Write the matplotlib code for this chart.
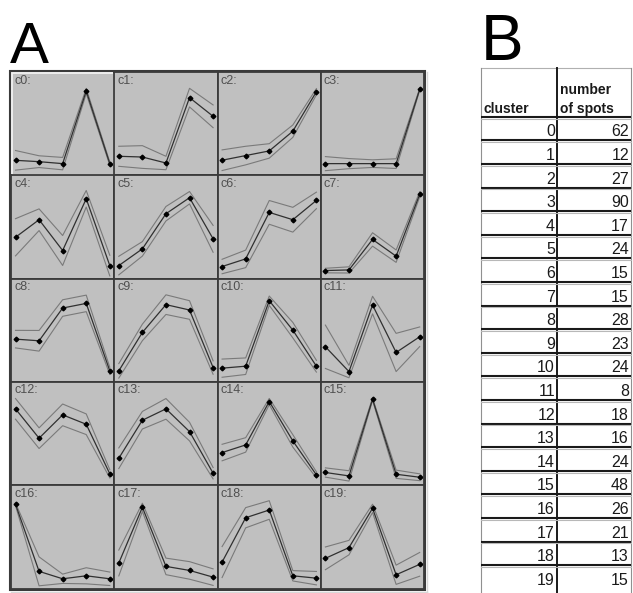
import matplotlib
matplotlib.use("Agg")
import matplotlib.pyplot as plt
from matplotlib import font_manager
from matplotlib.patches import Rectangle

# cluster profiles (mean, fraction of panel height) and spread (std)
means = [
    [0.145, 0.132, 0.113, 0.816, 0.113],
    [0.184, 0.177, 0.119, 0.752, 0.571],
    [0.146, 0.191, 0.236, 0.427, 0.809],
    [0.113, 0.113, 0.113, 0.113, 0.832],
    [0.400, 0.570, 0.272, 0.773, 0.126],
    [0.126, 0.288, 0.628, 0.783, 0.385],
    [0.117, 0.191, 0.641, 0.570, 0.757],
    [0.078, 0.084, 0.379, 0.217, 0.816],
    [0.414, 0.398, 0.715, 0.760, 0.107],
    [0.107, 0.479, 0.748, 0.696, 0.139],
    [0.133, 0.152, 0.786, 0.501, 0.152],
    [0.340, 0.100, 0.744, 0.285, 0.437],
    [0.739, 0.455, 0.681, 0.590, 0.110],
    [0.261, 0.629, 0.739, 0.519, 0.116],
    [0.316, 0.390, 0.810, 0.429, 0.100],
    [0.123, 0.090, 0.832, 0.106, 0.077],
    [0.815, 0.166, 0.094, 0.123, 0.094],
    [0.247, 0.786, 0.214, 0.175, 0.110],
    [0.256, 0.685, 0.760, 0.123, 0.100],
    [0.292, 0.396, 0.776, 0.133, 0.234],
]
spreads = [
    [0.095, 0.057, 0.060, 0.025, 0.016],
    [0.097, 0.110, 0.065, 0.090, 0.110],
    [0.100, 0.090, 0.070, 0.060, 0.030],
    [0.068, 0.049, 0.037, 0.047, 0.010],
    [0.180, 0.105, 0.145, 0.080, 0.100],
    [0.090, 0.070, 0.070, 0.060, 0.130],
    [0.070, 0.085, 0.115, 0.120, 0.080],
    [0.022, 0.030, 0.065, 0.060, 0.025],
    [0.085, 0.100, 0.080, 0.080, 0.035],
    [0.070, 0.080, 0.095, 0.090, 0.065],
    [0.088, 0.080, 0.045, 0.075, 0.057],
    [0.210, 0.060, 0.085, 0.185, 0.095],
    [0.100, 0.100, 0.105, 0.100, 0.040],
    [0.100, 0.085, 0.100, 0.090, 0.055],
    [0.080, 0.070, 0.030, 0.060, 0.030],
    [0.045, 0.050, 0.012, 0.040, 0.033],
    [0.013, 0.140, 0.045, 0.078, 0.065],
    [0.125, 0.040, 0.080, 0.085, 0.080],
    [0.150, 0.098, 0.090, 0.050, 0.065],
    [0.110, 0.070, 0.040, 0.093, 0.115],
]
cluster_ids = list(range(20))
spot_counts = [62, 12, 27, 90, 17, 24, 15, 15, 28, 23, 24, 8, 18, 16, 24, 48, 26, 21, 13, 15]

W, H = 633, 593
fig = plt.figure(figsize=(W / 100, H / 100), dpi=100)

names = {f.name for f in font_manager.fontManager.ttflist}
narrow = "Liberation Sans Narrow" if "Liberation Sans Narrow" in names else "Liberation Sans"

# --- panel A: grid of cluster profiles ---
gx, gy, cell = 11, 72, 103.3
xs = [0, 1, 2, 3, 4]
pad = 4 * 4.5 / (cell - 9)
for i, (m, s) in enumerate(zip(means, spreads)):
    r, c = divmod(i, 4)
    left = gx + c * cell
    top = gy + r * cell
    ax = fig.add_axes([left / W, 1 - (top + cell) / H, cell / W, cell / H])
    ax.set_facecolor("#c0c0c0")
    upper = [a + b for a, b in zip(m, s)]
    lower = [a - b for a, b in zip(m, s)]
    ax.plot(xs, upper, color="#7a7a7a", lw=0.8)
    ax.plot(xs, lower, color="#7a7a7a", lw=0.8)
    ax.plot(xs, m, color="#303030", lw=0.9, marker="D", ms=2.4,
            mfc="black", mec="black")
    ax.set_xlim(-pad, 4 + pad)
    ax.set_ylim(0, 1)
    ax.set_xticks([])
    ax.set_yticks([])
    for sp in ax.spines.values():
        sp.set_color("#f2f2f2" if i == 0 else "#3a3a3a")
        sp.set_linewidth(2.0 if i == 0 else 1.3)
    ax.text(0.03, 0.975, f"c{i}:", transform=ax.transAxes, ha="left", va="top",
            fontsize=9, color="#505050", family="Liberation Sans")

# overlay in pixel coordinates for labels, frame and table
ov = fig.add_axes([0, 0, 1, 1], facecolor="none")
ov.set_xlim(0, W)
ov.set_ylim(H, 0)
ov.axis("off")

gw = 4 * cell
gh = 5 * cell
ov.add_patch(Rectangle((gx - 1, gy - 1), gw + 2, gh + 2, fill=False,
                       ec="#3a3a3a", lw=1.5))
ov.plot([gx + gw + 3, gx + gw + 3], [gy, gy + gh + 3], color="#d8d8d8", lw=1)
ov.plot([gx, gx + gw + 3], [gy + gh + 3, gy + gh + 3], color="#d8d8d8", lw=1)

ov.text(10, 63, "A", fontsize=42, family="Liberation Sans", ha="left", va="baseline")
ov.text(481, 60, "B", fontsize=46, family="Liberation Sans", ha="left", va="baseline")

# --- panel B: table ---
tl, tm, tr = 481, 557, 631
ttop, hbot, rh = 68, 116.7, 23.6
nrows = len(cluster_ids)
tbot = H
ov.plot([tl, tr], [ttop, ttop], color="#b0b0b0", lw=0.8)
ov.plot([tl, tl], [ttop, tbot], color="#909090", lw=0.8)
ov.plot([tm, tm], [ttop, tbot], color="#1a1a1a", lw=1.4)
ov.plot([tr, tr], [ttop, tbot], color="#909090", lw=0.8)
for k in range(nrows):
    yl = hbot + k * rh
    ov.plot([tl, tr], [yl, yl], color="#1a1a1a", lw=1.5, solid_capstyle="butt")
    ov.plot([tl, tr], [yl + 1.8, yl + 1.8], color="#b8b8b8", lw=0.8)

ov.text(tl + 2, hbot - 4, "cluster", fontsize=10, family=narrow,
        fontweight="bold", ha="left", va="baseline", color="#1a1a1a")
ov.text(tm + 3, hbot - 4, "number\nof spots", fontsize=10, family=narrow,
        fontweight="bold", ha="left", va="baseline", color="#1a1a1a",
        linespacing=1.45)
for k, (cid, n) in enumerate(zip(cluster_ids, spot_counts)):
    yb = hbot + (k + 1) * rh - 4
    ov.text(tm - 2, yb, str(cid), fontsize=11.5, family=narrow, ha="right",
            va="baseline", color="#1a1a1a")
    ov.text(tr - 2, yb, str(n), fontsize=11.5, family=narrow, ha="right",
            va="baseline", color="#1a1a1a")

fig.savefig("out.png", dpi=100)
